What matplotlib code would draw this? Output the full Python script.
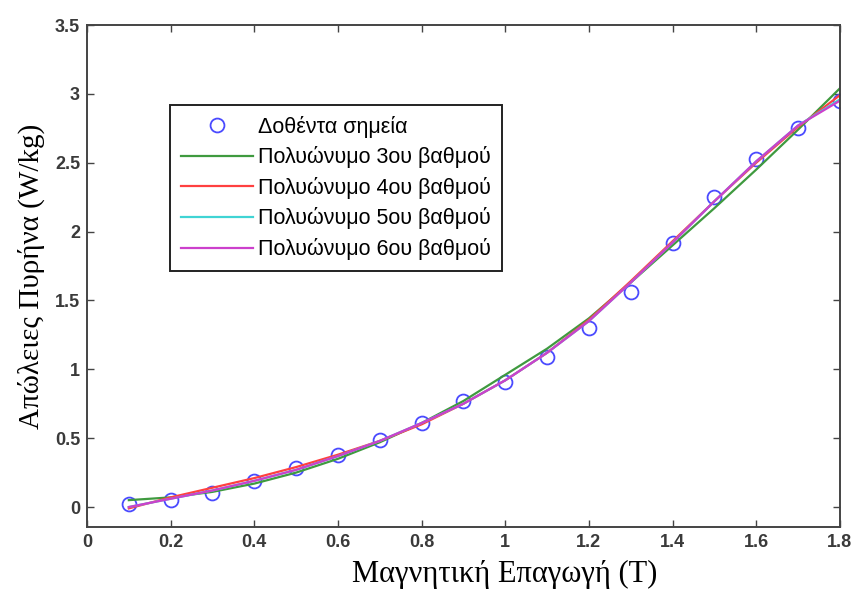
import numpy as np
import matplotlib

matplotlib.use("Agg")
import matplotlib.pyplot as plt

# magnetic induction (T)
induction = [0.1, 0.2, 0.3, 0.4, 0.5, 0.6, 0.7, 0.8, 0.9,
             1.0, 1.1, 1.2, 1.3, 1.4, 1.5, 1.6, 1.7, 1.8]

# given points, core losses (W/kg)
given_losses = [0.02, 0.05, 0.10, 0.19, 0.28, 0.38, 0.49, 0.61, 0.77,
                0.91, 1.09, 1.30, 1.56, 1.92, 2.25, 2.53, 2.75, 2.95]

# polynomial curves
poly3 = [0.05, 0.07, 0.11, 0.17, 0.25, 0.35, 0.47, 0.61, 0.77,
         0.96, 1.15, 1.37, 1.63, 1.90, 2.17, 2.45, 2.74, 3.04]
poly4 = [-0.01, 0.07, 0.14, 0.21, 0.29, 0.38, 0.48, 0.60, 0.75,
         0.92, 1.12, 1.36, 1.64, 1.93, 2.22, 2.50, 2.76, 2.99]
poly5 = [0.00, 0.06, 0.12, 0.19, 0.27, 0.37, 0.48, 0.61, 0.75,
         0.92, 1.12, 1.35, 1.63, 1.92, 2.22, 2.51, 2.77, 2.96]
poly6 = [0.00, 0.06, 0.12, 0.19, 0.27, 0.37, 0.48, 0.61, 0.75,
         0.92, 1.12, 1.35, 1.63, 1.92, 2.22, 2.51, 2.77, 2.95]

labels = ["Δοθέντα σημεία",
          "Πολυώνυμο 3ου βαθμού",
          "Πολυώνυμο 4ου βαθμού",
          "Πολυώνυμο 5ου βαθμού",
          "Πολυώνυμο 6ου βαθμού"]

x_ticks = [0, 0.2, 0.4, 0.6, 0.8, 1, 1.2, 1.4, 1.6, 1.8]
x_ticklabels = ["0", "0.2", "0.4", "0.6", "0.8", "1", "1.2", "1.4", "1.6", "1.8"]
y_ticks = [0, 0.5, 1, 1.5, 2, 2.5, 3, 3.5]
y_ticklabels = ["0", "0.5", "1", "1.5", "2", "2.5", "3", "3.5"]

plt.rcParams["font.family"] = ["Liberation Sans", "DejaVu Sans"]

fig = plt.figure(figsize=(8.57, 5.90), dpi=100)
ax = fig.add_axes([0.1015, 0.1068, 0.8785, 0.8508])

ax.plot(induction, given_losses, "o", ms=10, mfc="none", mec="#4a4aff",
        mew=1.3, label=labels[0])
ax.plot(induction, poly3, color="#3f9a3f", lw=1.6, label=labels[1])
ax.plot(induction, poly4, color="#ff4040", lw=1.6, label=labels[2])
ax.plot(induction, poly5, color="#40d4d4", lw=1.6, label=labels[3])
ax.plot(induction, poly6, color="#cc40cc", lw=1.6, label=labels[4])

ax.set_xlim(0, 1.8)
ax.set_ylim(-0.145, 3.5)
ax.set_xticks(x_ticks)
ax.set_xticklabels(x_ticklabels, fontweight="bold")
ax.set_yticks(y_ticks)
ax.set_yticklabels(y_ticklabels, fontweight="bold")
ax.tick_params(direction="in", length=5, width=1, top=True, right=True,
               labelsize=13, labelcolor="#3a3a3a", color="#444444", pad=5)
for s in ax.spines.values():
    s.set_color("#444444")
    s.set_linewidth(1.4)

ax.set_xlabel("Μαγνητική Επαγωγή (T)", family="Liberation Serif",
              fontsize=22)
ax.xaxis.set_label_coords(0.555, -0.066)
ax.set_ylabel("Απώλειες Πυρήνα (W/kg)", family="Liberation Serif",
              fontsize=21, labelpad=7)

leg = ax.legend(loc="upper left", bbox_to_anchor=(0.110, 0.841),
                fontsize=15.5, handlelength=3.35, handletextpad=0.25,
                labelspacing=0.4, borderaxespad=0, fancybox=False,
                framealpha=1, edgecolor="#222222", borderpad=0.5)
leg.get_frame().set_linewidth(1.4)

fig.savefig("out.png", dpi=100)
